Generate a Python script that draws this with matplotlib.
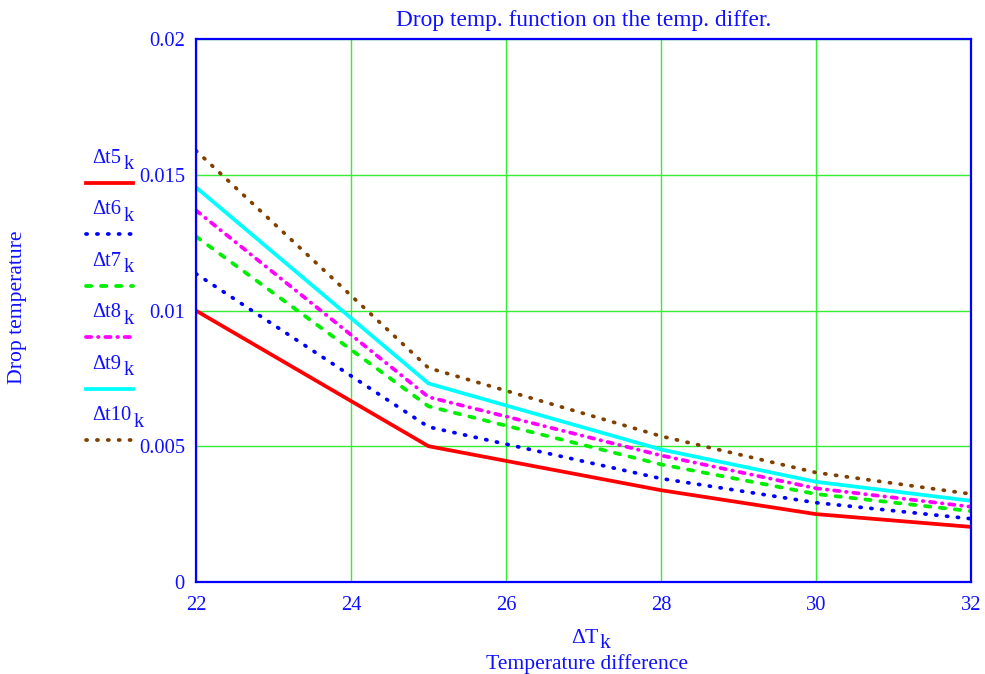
import matplotlib
matplotlib.use('Agg')
import matplotlib.pyplot as plt
from matplotlib.lines import Line2D

plt.rcParams['font.family'] = ['Liberation Serif', 'DejaVu Serif']

# temperature difference (x) and drop temperature for each series
dT = [22, 25, 28, 30, 32]
dt5 = [0.0100, 0.00501, 0.00339, 0.00251, 0.00204]
dt6 = [0.01136, 0.00572, 0.00382, 0.00293, 0.00234]
dt7 = [0.01273, 0.00648, 0.00434, 0.00325, 0.00262]
dt8 = [0.01369, 0.00682, 0.00467, 0.00346, 0.00278]
dt9 = [0.01454, 0.00732, 0.00489, 0.00370, 0.00300]
dt10 = [0.01589, 0.00789, 0.00538, 0.00404, 0.00325]
names = ['5', '6', '7', '8', '9', '10']

txt = '#1010ff'
fs_tick = 14.8
fs_lab = 15.6
fs_title = 16.8
lw = 2.7
W, H = 985, 674

series = [
    (dt5, '#ff0000', None),
    (dt6, '#0000ff', (0.3, 2.6)),
    (dt7, '#00ee00', (1.4, 2.6)),
    (dt8, '#ff00ff', (1.4, 1.8, 0.15, 1.8)),
    (dt9, '#00ffff', None),
    (dt10, '#804000', (0.3, 2.6)),
]

fig = plt.figure(figsize=(9.85, 6.74), dpi=100)
ax = fig.add_axes([196/W, 1 - 582.3/H, (971-196)/W, (582.3-39)/H])

for vals, c, dash in series:
    if dash is None:
        ax.plot(dT, vals, color=c, lw=lw, solid_capstyle='butt')
    else:
        ax.plot(dT, vals, color=c, lw=lw, dashes=dash, dash_capstyle='round')

ax.set_xlim(22, 32)
ax.set_ylim(0, 0.02)
ax.set_xticks([22, 24, 26, 28, 30, 32])
ax.set_yticks([0, 0.005, 0.01, 0.015, 0.02])
ax.set_yticklabels(['0', '0.005', '0.01', '0.015', '0.02'])
ax.tick_params(length=0, labelsize=fs_tick, labelcolor=txt, pad=8)
ax.tick_params(axis='x', pad=10)
for lab in ax.get_yticklabels():
    lab.set_verticalalignment('center_baseline')
ax.grid(True, color='#33ee33', lw=1)
ax.set_axisbelow(True)
for s in ax.spines.values():
    s.set_color('#0000ff')
    s.set_linewidth(1.6)

fig.text(584/W, 1 - 26/H, 'Drop temp. function on the temp. differ.',
         ha='center', va='baseline', fontsize=fs_title, color=txt)
fig.text(18/W, 1 - 307/H, 'Drop temperature', rotation=90,
         ha='center', va='center', fontsize=fs_lab, color=txt)

# x label: Delta T with subscript k, plus description
fig.text(598/W, 1 - 643/H, '\u0394T', ha='right', va='baseline', fontsize=fs_lab, color=txt)
fig.text(600/W, 1 - 648/H, 'k', ha='left', va='baseline', fontsize=fs_lab, color=txt)
fig.text(587/W, 1 - 669/H, 'Temperature difference',
         ha='center', va='baseline', fontsize=fs_lab, color=txt)

# manual legend on the left
for i, (vals, c, dash) in enumerate(series):
    ty = 162.7 + i * 51.5
    ly = 182.7 + i * 51.5
    t = fig.text(92/W, 1 - ty/H, '\u0394t' + names[i], ha='left', va='baseline',
                 fontsize=fs_tick, color=txt)
    fig.add_artist(plt.Annotation('k', xy=(1, 0), xycoords=t, xytext=(2, -1),
                                  textcoords='offset points', fontsize=fs_tick,
                                  color=txt, ha='left', va='baseline'))
    ln = Line2D([86/W, 133/W], [1 - ly/H, 1 - ly/H], transform=fig.transFigure,
                color=c, lw=lw)
    if dash is not None:
        ln.set_dashes(dash)
        ln.set_dash_capstyle('round')
    fig.add_artist(ln)

fig.savefig('out.png', dpi=100)
